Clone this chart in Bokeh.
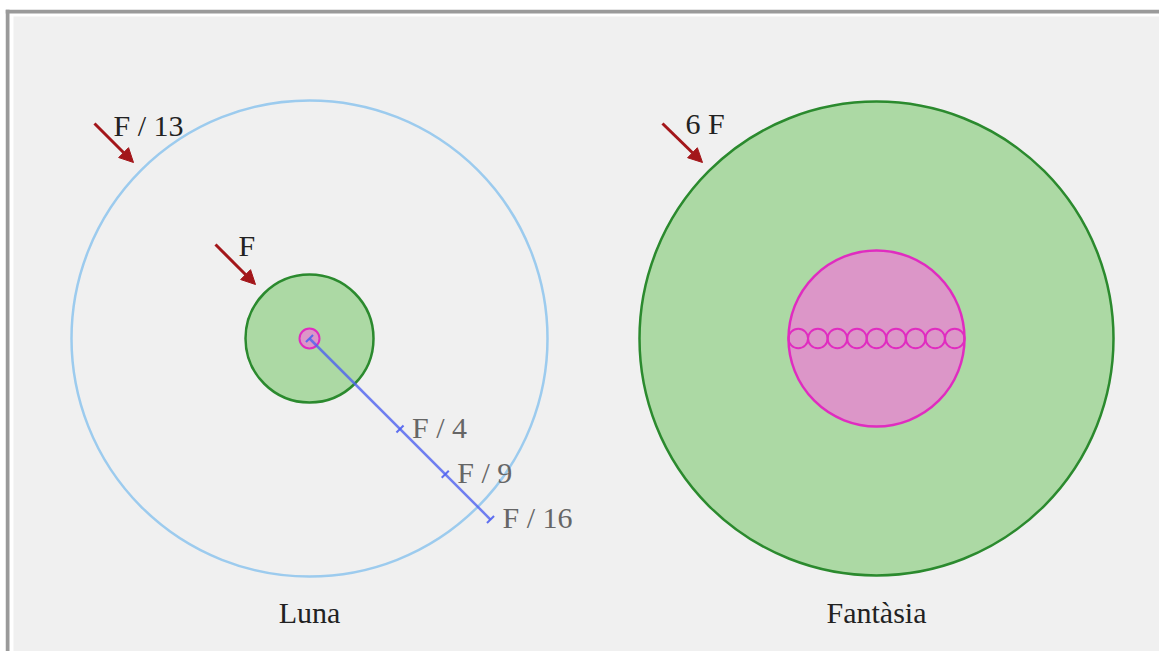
import math
from bokeh.plotting import figure
from bokeh.models import Range1d, Arrow, NormalHead
from bokeh.core.properties import value
from bokeh.embed import file_html
from bokeh.resources import INLINE

# ---- data (pixel units of the drawing) ----
moon_center = [309, 338]
moon_radius = 64
moon_core_radius = 10
moon_orbit_radius = 238
fantasy_center = [876, 338]
fantasy_radius = 237
fantasy_core_radius = 88
fantasy_small_count = 9
force_ratios = [4, 9, 16]
force_labels = ["F / 4", "F / 9", "F / 16"]
title_labels = ["Luna", "Fantàsia"]
arrow_labels = ["F / 13", "F", "6 F"]

# ---- layout ----
arrow_starts_x = [94, 215, 662]
arrow_starts_y = [123, 244, 123]
arrow_ends_x = [133, 255, 702]
arrow_ends_y = [162, 284, 162]
arrow_label_x = [113, 238, 685]
arrow_label_y = [125, 245, 123]
title_y = 612
TEXT_DY = -2

FONT = value("Liberation Serif")
GREEN_FILL = "#acd9a4"
GREEN_LINE = "#2b8a2e"
PINK_FILL = "#dc96c8"
PINK_LINE = "#e02cc0"
BLUE_ORBIT = "#9ccbee"
BLUE_LINE = "#4f62f0"
RED = "#a3161a"
BG = "#f0f0f0"
FRAME = "#9a9a9a"

p = figure(width=1159, height=651, output_backend="svg", toolbar_location=None,
           x_range=Range1d(5, 1159), y_range=Range1d(651, 9),
           x_axis_location=None, y_axis_location=None,
           min_border_left=5, min_border_top=9, min_border_right=0, min_border_bottom=0,
           background_fill_color="white", border_fill_color="white",
           outline_line_color=None)
p.grid.visible = False

# page frame: gray border, white gap, light gray panel
p.quad(left=[13], right=[1159], top=[16], bottom=[651], fill_color=BG, line_color=None)
p.quad(left=[5, 5], right=[9, 1159], top=[9, 9], bottom=[651, 13],
       fill_color=FRAME, line_color=None)

# Left: orbit circle
p.circle(x=[moon_center[0]], y=[moon_center[1]], radius=moon_orbit_radius,
         fill_alpha=0, line_color=BLUE_ORBIT, line_width=2.5)
# Moon
p.circle(x=[moon_center[0]], y=[moon_center[1]], radius=moon_radius,
         fill_color=GREEN_FILL, line_color=GREEN_LINE, line_width=2.5)
# Moon core
p.circle(x=[moon_center[0]], y=[moon_center[1]], radius=moon_core_radius,
         fill_color=PINK_FILL, line_color=PINK_LINE, line_width=2)

# Blue distance line at 45 degrees, ticks at sqrt(ratio) * moon radius
dx, dy = math.cos(math.pi / 4), math.sin(math.pi / 4)
dists = [0] + [math.sqrt(r) * moon_radius for r in force_ratios]
tx = [moon_center[0] + d * dx for d in dists]
ty = [moon_center[1] + d * dy for d in dists]
p.line(x=[tx[0], tx[-1]], y=[ty[0], ty[-1]], line_color=BLUE_LINE, line_width=2.5, line_alpha=0.8)
h = 5
p.segment(x0=[x - h * dy for x in tx], y0=[y + h * dx for y in ty],
          x1=[x + h * dy for x in tx], y1=[y - h * dx for y in ty],
          line_color=BLUE_LINE, line_width=2, line_alpha=0.9)
p.text(x=[x + 12 for x in tx[1:]], y=[y + TEXT_DY for y in ty[1:]], text=force_labels,
       text_font=FONT, text_font_size="30px", text_color="#666666",
       text_baseline="alphabetic", text_align="left")

# Right: Fantasy
p.circle(x=[fantasy_center[0]], y=[fantasy_center[1]], radius=fantasy_radius,
         fill_color=GREEN_FILL, line_color=GREEN_LINE, line_width=2.5)
p.circle(x=[fantasy_center[0]], y=[fantasy_center[1]], radius=fantasy_core_radius,
         fill_color=PINK_FILL, line_color=PINK_LINE, line_width=2.5)
sr = fantasy_core_radius / fantasy_small_count
sx = [fantasy_center[0] - fantasy_core_radius + sr * (2 * i + 1) for i in range(fantasy_small_count)]
p.circle(x=sx, y=[fantasy_center[1]] * fantasy_small_count, radius=sr,
         fill_alpha=0, line_color=PINK_LINE, line_width=2)

# Arrows
for x0, y0, x1, y1 in zip(arrow_starts_x, arrow_starts_y, arrow_ends_x, arrow_ends_y):
    p.add_layout(Arrow(x_start=x0, y_start=y0, x_end=x1, y_end=y1,
                       line_color=RED, line_width=3,
                       end=NormalHead(size=14, fill_color=RED, line_color=RED, line_width=1)))
p.text(x=arrow_label_x, y=arrow_label_y, text=arrow_labels,
       text_font=FONT, text_font_size="30px", text_color="#222222",
       text_baseline="alphabetic", text_align="left")

# Titles
p.text(x=[moon_center[0], fantasy_center[0]], y=[title_y, title_y], text=title_labels,
       text_font=FONT, text_font_size="30px", text_color="#222222",
       text_baseline="alphabetic", text_align="center")

open("out.html", "w").write(file_html(p, INLINE))
